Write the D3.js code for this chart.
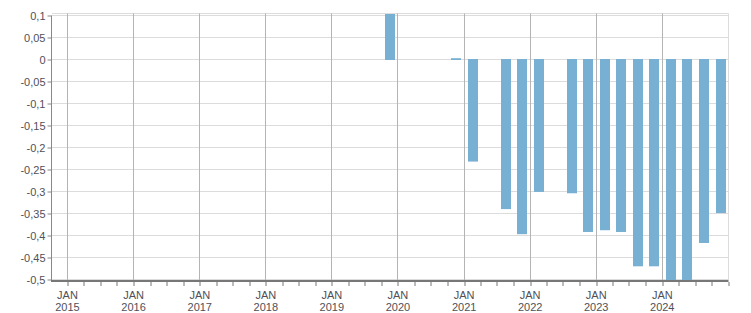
<!DOCTYPE html>
<html>
<head>
<meta charset="utf-8">
<script src="https://cdn.jsdelivr.net/npm/d3@7"></script>
<style>
  body { margin: 0; background: #fff; }
  svg { display: block; font-family: "Liberation Sans", Arial, sans-serif; }
</style>
</head>
<body>
<svg id="drawing_region"></svg>
<script>
// quarters (year, quarter) and their values
const quarters = ["2019-Q4", "2020-Q4", "2021-Q1", "2021-Q3", "2021-Q4", "2022-Q1",
                  "2022-Q3", "2022-Q4", "2023-Q1", "2023-Q2", "2023-Q3", "2023-Q4",
                  "2024-Q1", "2024-Q2", "2024-Q3", "2024-Q4"];
const values = [0.12, 0.003, -0.232, -0.34, -0.397, -0.301,
                -0.304, -0.392, -0.388, -0.392, -0.47, -0.47,
                -0.52, -0.54, -0.417, -0.349];
const yTicks = [0.1, 0.05, 0, -0.05, -0.1, -0.15, -0.2, -0.25, -0.3, -0.35, -0.4, -0.45, -0.5];
const years = [2015, 2016, 2017, 2018, 2019, 2020, 2021, 2022, 2023, 2024];

const config = {
    width: 751,
    height: 313,
    left: 52,
    right: 728.5,
    top: 13.5,
    bottom: 280
};

const data = quarters.map((q, i) => {
    const yr = +q.slice(0, 4), qn = +q.slice(6);
    return { start: new Date(yr, (qn - 1) * 3, 1), end: new Date(yr, qn * 3, 1), value: values[i] };
});

const svg = d3.select('#drawing_region')
    .attr('width', config.width)
    .attr('height', config.height);

const xscale = d3.scaleTime()
    .domain([new Date(2015, 0, 1), new Date(2025, 0, 1)])
    .range([67.5, 728.5]);

const yscale = d3.scaleLinear()
    .domain([-0.5, 0.1])
    .range([279.5, 15.5]);

const fmt = d3.formatLocale({ decimal: ",", thousands: ".", grouping: [3], currency: ["", ""], minus: "-" }).format("~g");

// horizontal grid
svg.append('g').selectAll('line').data(yTicks).enter()
    .append('line')
    .attr('x1', config.left).attr('x2', config.right)
    .attr('y1', d => yscale(d)).attr('y2', d => yscale(d))
    .attr('stroke', '#dcdcdc');

// top and right border
svg.append('line')
    .attr('x1', config.left).attr('x2', config.right)
    .attr('y1', config.top).attr('y2', config.top)
    .attr('stroke', '#dcdcdc');
svg.append('line')
    .attr('x1', config.right).attr('x2', config.right)
    .attr('y1', config.top).attr('y2', config.bottom)
    .attr('stroke', '#dcdcdc');

// vertical grid at each January
svg.append('g').selectAll('line').data(years).enter()
    .append('line')
    .attr('x1', d => Math.floor(xscale(new Date(d, 0, 1))) + 0.5)
    .attr('x2', d => Math.floor(xscale(new Date(d, 0, 1))) + 0.5)
    .attr('y1', config.top).attr('y2', config.bottom)
    .attr('stroke', '#b4b4b4');

// bars
svg.append('clipPath').attr('id', 'clip')
    .append('rect')
    .attr('x', config.left).attr('y', config.top + 0.5)
    .attr('width', config.right - config.left).attr('height', config.bottom - config.top - 0.5);

const bw = 10;
svg.append('g').attr('clip-path', 'url(#clip)')
    .selectAll('rect').data(data).enter()
    .append('rect')
    .attr('x', d => Math.round((xscale(d.start) + xscale(d.end)) / 2 - bw / 2 + 0.5))
    .attr('width', bw)
    .attr('y', d => d.value >= 0 ? yscale(d.value) : yscale(0) - 0.5)
    .attr('height', d => Math.max(1, Math.abs(yscale(d.value) - yscale(0)) + 0.5))
    .attr('fill', '#78b0d3');

// y axis
const yaxis = d3.axisLeft(yscale)
    .tickValues(yTicks)
    .tickFormat(fmt)
    .tickSize(4)
    .tickPadding(2)
    .tickSizeOuter(0);

const yaxis_group = svg.append('g')
    .attr('transform', `translate(${config.left - 0.5}, 0)`)
    .call(yaxis);
yaxis_group.select('.domain').remove();
yaxis_group.selectAll('line').attr('stroke', '#888');
yaxis_group.selectAll('text')
    .attr('fill', '#505058')
    .style('font-size', '11px');
svg.append('line')
    .attr('x1', config.left - 0.5).attr('x2', config.left - 0.5)
    .attr('y1', yscale(0.1)).attr('y2', config.bottom)
    .attr('stroke', '#888');

// x axis: quarterly ticks, labels at each January
const xaxis = d3.axisBottom(xscale)
    .ticks(d3.timeMonth.every(3))
    .tickFormat('')
    .tickSize(4)
    .tickSizeOuter(0);

const xaxis_group = svg.append('g')
    .attr('transform', `translate(0, ${config.bottom + 2})`)
    .call(xaxis);
xaxis_group.select('.domain').remove();
xaxis_group.selectAll('line')
    .attr('stroke', '#777')
    .attr('transform', d => `translate(${Math.floor(xscale(d)) + 0.5 - xscale(d)}, 0)`);

svg.append('line')
    .attr('x1', config.left - 1).attr('x2', config.right)
    .attr('y1', config.bottom + 1).attr('y2', config.bottom + 1)
    .attr('stroke', '#777').attr('stroke-width', 2);

const labels = svg.append('g').selectAll('text').data(years).enter()
    .append('text')
    .attr('x', d => xscale(new Date(d, 0, 1)))
    .attr('y', 299)
    .attr('text-anchor', 'middle')
    .attr('fill', '#505058')
    .style('font-size', '11px');
labels.append('tspan').attr('x', d => xscale(new Date(d, 0, 1))).text('JAN');
labels.append('tspan').attr('x', d => xscale(new Date(d, 0, 1))).attr('dy', 11.5).text(d => d);
</script>
</body>
</html>
